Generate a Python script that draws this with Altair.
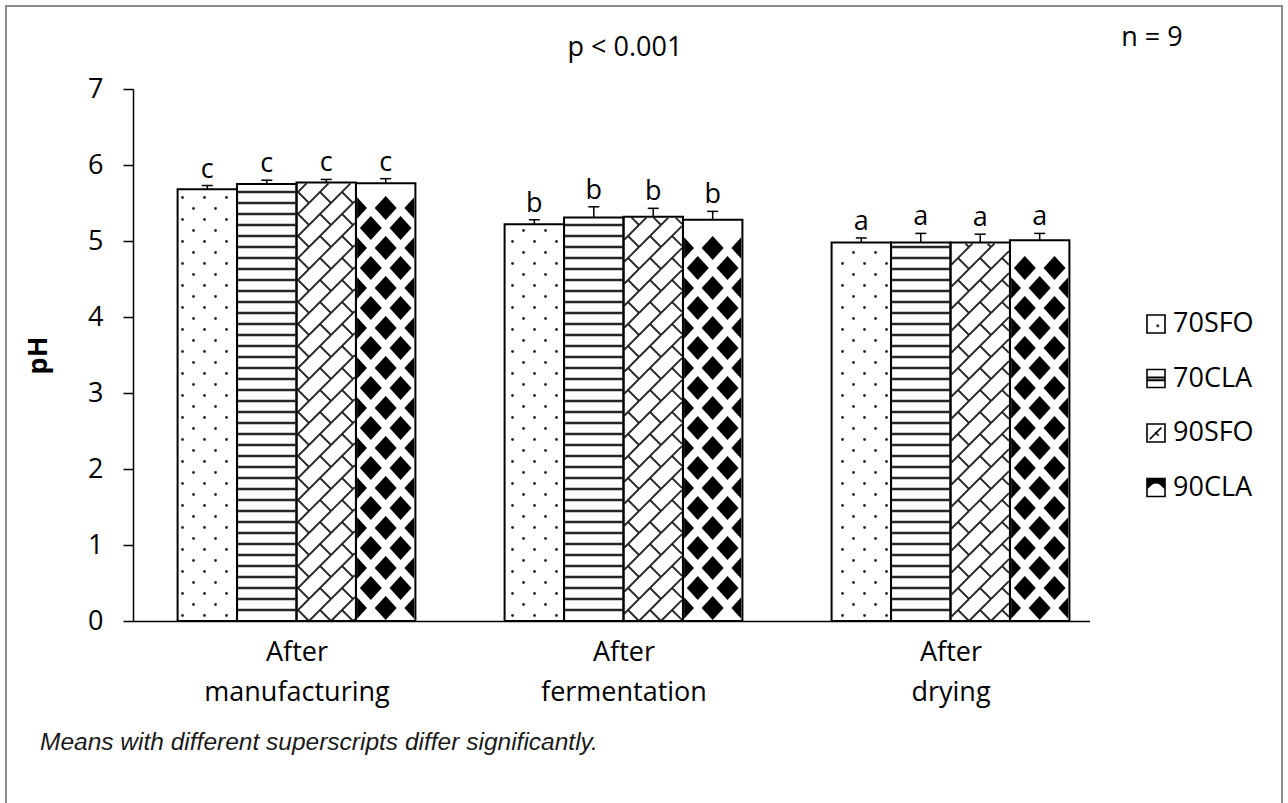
import math
import altair as alt
import pandas as pd

# ---------------- data ----------------
groups = ["After manufacturing", "After fermentation", "After drying"]
series = ["70SFO", "70CLA", "90SFO", "90CLA"]

ph_70sfo = [5.68, 5.22, 4.98]
ph_70cla = [5.75, 5.31, 4.98]
ph_90sfo = [5.77, 5.32, 4.98]
ph_90cla = [5.76, 5.28, 5.01]

sd_70sfo = [0.05, 0.06, 0.06]
sd_70cla = [0.05, 0.14, 0.12]
sd_90sfo = [0.04, 0.11, 0.11]
sd_90cla = [0.06, 0.11, 0.09]

letters = ["c", "b", "a"]
y_ticks = [0, 1, 2, 3, 4, 5, 6, 7]

title_text = "p < 0.001"
n_text = "n = 9"
note_text = "Means with different superscripts differ significantly."

means = dict(zip(series, [ph_70sfo, ph_70cla, ph_90sfo, ph_90cla]))
sds = dict(zip(series, [sd_70sfo, sd_70cla, sd_90sfo, sd_90cla]))

# ---------------- layout ----------------
FONT = "Open Sans"
W, H = 981, 532          # plot area
Y_MAX = 7
GAP = 1.5                # gap between clusters, in bar widths
SLOT = len(series) + GAP
X_MAX = SLOT * len(groups)
PX = W / X_MAX           # pixels per x unit
PY = H / Y_MAX           # pixels per pH unit
CAP = 11                 # error-bar cap width, px

rows = []
for g, grp in enumerate(groups):
    for i, s in enumerate(series):
        x0 = g * SLOT + GAP / 2 + i
        m = means[s][g]
        rows.append(dict(group=grp, series=s, x0=x0, x1=x0 + 1, xc=x0 + 0.5,
                         mean=m, top=m + sds[s][g], letter=letters[g],
                         c0=x0 + 0.5 - CAP / 2 / PX, c1=x0 + 0.5 + CAP / 2 / PX))
bars = pd.DataFrame(rows)


# ---------------- fill textures (built in pixel space, stored in data units) ----------------
def clip_seg(x0, y0, x1, y1, xmin, xmax, ymin, ymax):
    dx, dy = x1 - x0, y1 - y0
    t0, t1 = 0.0, 1.0
    for p, q in ((-dx, x0 - xmin), (dx, xmax - x0), (-dy, y0 - ymin), (dy, ymax - y0)):
        if p == 0:
            if q < 0:
                return None
        else:
            t = q / p
            if p < 0:
                t0 = max(t0, t)
            else:
                t1 = min(t1, t)
    if t1 - t0 <= 1e-6:
        return None
    return (x0 + t0 * dx, y0 + t0 * dy, x0 + t1 * dx, y0 + t1 * dy)


# diamond glyphs (unit box, y down): whole, right half, left half
HX, HY = 11.0, 12.0                      # half-diagonals, px
RX = HX / HY
DIAMOND = f"M0,-1L{RX:.3f},0L0,1L{-RX:.3f},0Z"
RIGHT_HALF = f"M0.1,-0.9L{RX:.3f},0L0.1,0.9Z"
LEFT_HALF = f"M-0.1,-0.9L{-RX:.3f},0L-0.1,0.9Z"

dots, hlines, bricks, diamonds = [], [], [], []
for r in rows:
    L, R, T = r["x0"] * PX, r["x1"] * PX, r["mean"] * PY
    s = r["series"]
    if s == "70SFO":
        j = 0
        while 5.5 + 11 * j < T - 2:
            yp = 5.5 + 11 * j
            off = 5.5 + (j % 2) * 11
            xp = off + 22 * math.ceil((L + 1.5 - off) / 22)
            while xp <= R - 1.5:
                dots.append(dict(x=xp / PX, y=yp / PY))
                xp += 22
            j += 1
    elif s == "70CLA":
        yp = 11
        while yp < T - 2:
            hlines.append(dict(x=(L + 1) / PX, x2=(R - 1) / PX, y=yp / PY))
            yp += 11
    elif s == "90SFO":
        t = 22
        for c in range(int(L // t) - 1, int(R // t) + 2):
            for k in range(-1, int(T // t) + 2):
                ox, oy = c * t, k * t
                for seg in ((ox, oy, ox + t, oy + t), (ox + t / 2, oy + t / 2, ox + t, oy)):
                    cl = clip_seg(*seg, L + 1, R - 1, 0, T - 1)
                    if cl:
                        bricks.append(dict(x=cl[0] / PX, y=cl[1] / PY, x2=cl[2] / PX, y2=cl[3] / PY))
    elif s == "90CLA":
        sx = (R - L) / 2            # two diamonds per row, halves at the edges
        sy = 20                     # row pitch, px
        k = 0
        while True:
            cy = HY + 1 + sy * k
            if cy + HY > T - 1:
                break
            if k % 2 == 0:
                items = [(L, RIGHT_HALF), (L + sx, DIAMOND), (R, LEFT_HALF)]
            else:
                items = [(L + sx / 2, DIAMOND), (L + 1.5 * sx, DIAMOND)]
            for cx, shape in items:
                diamonds.append(dict(x=cx / PX, y=cy / PY, path=shape))
            k += 1

dots = pd.DataFrame(dots)
hlines = pd.DataFrame(hlines)
bricks = pd.DataFrame(bricks)
diamonds = pd.DataFrame(diamonds)

# ---------------- scales / axes ----------------
centers = [g * SLOT + SLOT / 2 for g in range(len(groups))]


def two_lines(label):
    first, rest = label.split(" ", 1)
    return f"['{first}', '{rest}']"


label_expr = two_lines(groups[-1])
for g in range(len(groups) - 2, -1, -1):
    label_expr = f"datum.value < {(g + 1) * SLOT} ? {two_lines(groups[g])} : ({label_expr})"

XS = alt.Scale(domain=[0, X_MAX], nice=False, zero=False)
YS = alt.Scale(domain=[0, Y_MAX], nice=False, zero=True)
XA = alt.Axis(values=centers, labelExpr=label_expr, ticks=False, tickSize=0, labelPadding=18,
              labelLineHeight=40, labelFontSize=27, labelFont=FONT, labelColor="black",
              labelLimit=0, labelAngle=0, labelBaseline="top", domainColor="black",
              domainWidth=1.5, grid=False, title=None, zindex=0)
YA = alt.Axis(values=y_ticks, tickSize=10, tickColor="black", tickWidth=1.5, labelPadding=20,
              labelFontSize=27, labelFont=FONT, labelColor="black", domainColor="black",
              domainWidth=1.5, grid=False, title="pH", titleFont=FONT, titleFontSize=27,
              titleFontWeight="bold", titleColor="black", titleX=-95, titleY=266,
              titleAngle=270, titleAlign="center", titleBaseline="middle", zindex=0)


def X(f):
    return alt.X(f"{f}:Q", scale=XS, axis=XA)


def Y(f):
    return alt.Y(f"{f}:Q", scale=YS, axis=YA)


one = pd.DataFrame({"k": [0]})

frame = alt.Chart(one).mark_rect(filled=False, stroke="#8c8c8c", strokeWidth=2).encode(
    x=alt.value(-127), x2=alt.value(1149), y=alt.value(-83), y2=alt.value(740))

bar_fill = alt.Chart(bars).mark_rect(color="white").encode(
    x=X("x0"), x2="x1", y=Y("mean"), y2=alt.Y2(datum=0))

dot_layer = alt.Chart(dots).mark_circle(size=8, color="#2a2a2a", opacity=1).encode(x=X("x"), y=Y("y"))
hline_layer = alt.Chart(hlines).mark_rule(color="#262626", strokeWidth=2.6).encode(
    x=X("x"), x2="x2", y=Y("y"))
brick_layer = alt.Chart(bricks).mark_rule(color="#262626", strokeWidth=1.8).encode(
    x=X("x"), x2="x2", y=Y("y"), y2="y2")
diamond_layer = alt.Chart(diamonds).mark_point(filled=True, color="black", size=(2 * HY) ** 2,
                                               opacity=1, strokeWidth=0).encode(
    x=X("x"), y=Y("y"), shape=alt.Shape("path:N", scale=None, legend=None))

bar_edge = alt.Chart(bars).mark_rect(filled=False, stroke="black", strokeWidth=2).encode(
    x=X("x0"), x2="x1", y=Y("mean"), y2=alt.Y2(datum=0))

axis_cover = alt.Chart(one).mark_rect(color="white").encode(
    x=alt.value(957), x2=alt.value(995), y=alt.value(525), y2=alt.value(540))

err = alt.Chart(bars).mark_rule(color="black", strokeWidth=1.5).encode(
    x=X("xc"), y=Y("mean"), y2="top")
cap = alt.Chart(bars).mark_rule(color="black", strokeWidth=1.5).encode(
    x=X("c0"), x2="c1", y=Y("top"))
sig = alt.Chart(bars).mark_text(font=FONT, fontSize=27, color="black", baseline="alphabetic",
                                dy=-8).encode(x=X("xc"), y=Y("top"), text="letter:N")

p_title = alt.Chart(one).mark_text(text=title_text, font=FONT, fontSize=27, color="black",
                                   align="center", baseline="middle").encode(
    x=alt.value(492), y=alt.value(-41))
n_label = alt.Chart(one).mark_text(text=n_text, font=FONT, fontSize=27, color="black",
                                   align="center", baseline="middle").encode(
    x=alt.value(1019), y=alt.value(-51))
note = alt.Chart(one).mark_text(text=note_text, font="Liberation Sans", fontSize=24.5,
                                fontStyle="italic", color="#1a1a1a", align="left",
                                baseline="middle").encode(x=alt.value(-93), y=alt.value(654))

main = alt.layer(frame, bar_fill, dot_layer, hline_layer, brick_layer, diamond_layer, bar_edge,
                 axis_cover, err, cap, sig, p_title, n_label, note)

# ---------------- legend ----------------
leg = pd.DataFrame({"series": series})
LY = alt.Y("series:N", scale=alt.Scale(type="point", domain=series, range=[235, 398.5], padding=0),
           axis=None)
SW_X = 1023
leg_box = alt.Chart(leg).mark_square(filled=False, stroke="black", strokeWidth=1.6, size=324,
                                     opacity=1).encode(x=alt.value(SW_X), y=LY)
leg_dot = alt.Chart(leg).transform_filter(alt.datum.series == "70SFO").mark_point(
    shape="M0.05,0.05H0.35V0.35H0.05Z", filled=True, color="#333333", size=324, opacity=1,
    strokeWidth=0).encode(x=alt.value(SW_X), y=LY)
leg_lines = alt.Chart(leg).transform_filter(alt.datum.series == "70CLA").mark_point(
    shape="M-1,-0.12H1M-1,0.2H1", filled=False, color="black", size=324, opacity=1,
    strokeWidth=2).encode(x=alt.value(SW_X), y=LY)
leg_diag = alt.Chart(leg).transform_filter(alt.datum.series == "90SFO").mark_point(
    shape="M-0.7,0.7L0.6,-0.6M-0.1,-0.1L0.3,0.3", filled=False, color="black", size=324, opacity=1,
    strokeWidth=1.6).encode(x=alt.value(SW_X), y=LY)
leg_blob = alt.Chart(leg).transform_filter(alt.datum.series == "90CLA").mark_point(
    shape="M-1,-1H1V0.15C0.75,0.15 0.55,-0.45 0,-0.45C-0.55,-0.45 -0.75,0.15 -1,0.15Z",
    filled=True, color="black", size=324, opacity=1, strokeWidth=0).encode(x=alt.value(SW_X), y=LY)
leg_text = alt.Chart(leg).mark_text(font=FONT, fontSize=27, color="black", align="left",
                                    baseline="middle").encode(
    x=alt.value(1040), y=LY, text="series:N")
legend = alt.layer(leg_box, leg_dot, leg_lines, leg_diag, leg_blob, leg_text)

chart = alt.layer(main, legend).resolve_scale(y="independent").properties(
    width=W, height=H,
    padding={"left": 133, "top": 89, "right": 174, "bottom": 182},
    autosize=alt.AutoSizeParams(type="none"),
    background="white",
).configure_view(stroke=None)

chart.save("out.html", embed_options={"renderer": "svg", "actions": False})
